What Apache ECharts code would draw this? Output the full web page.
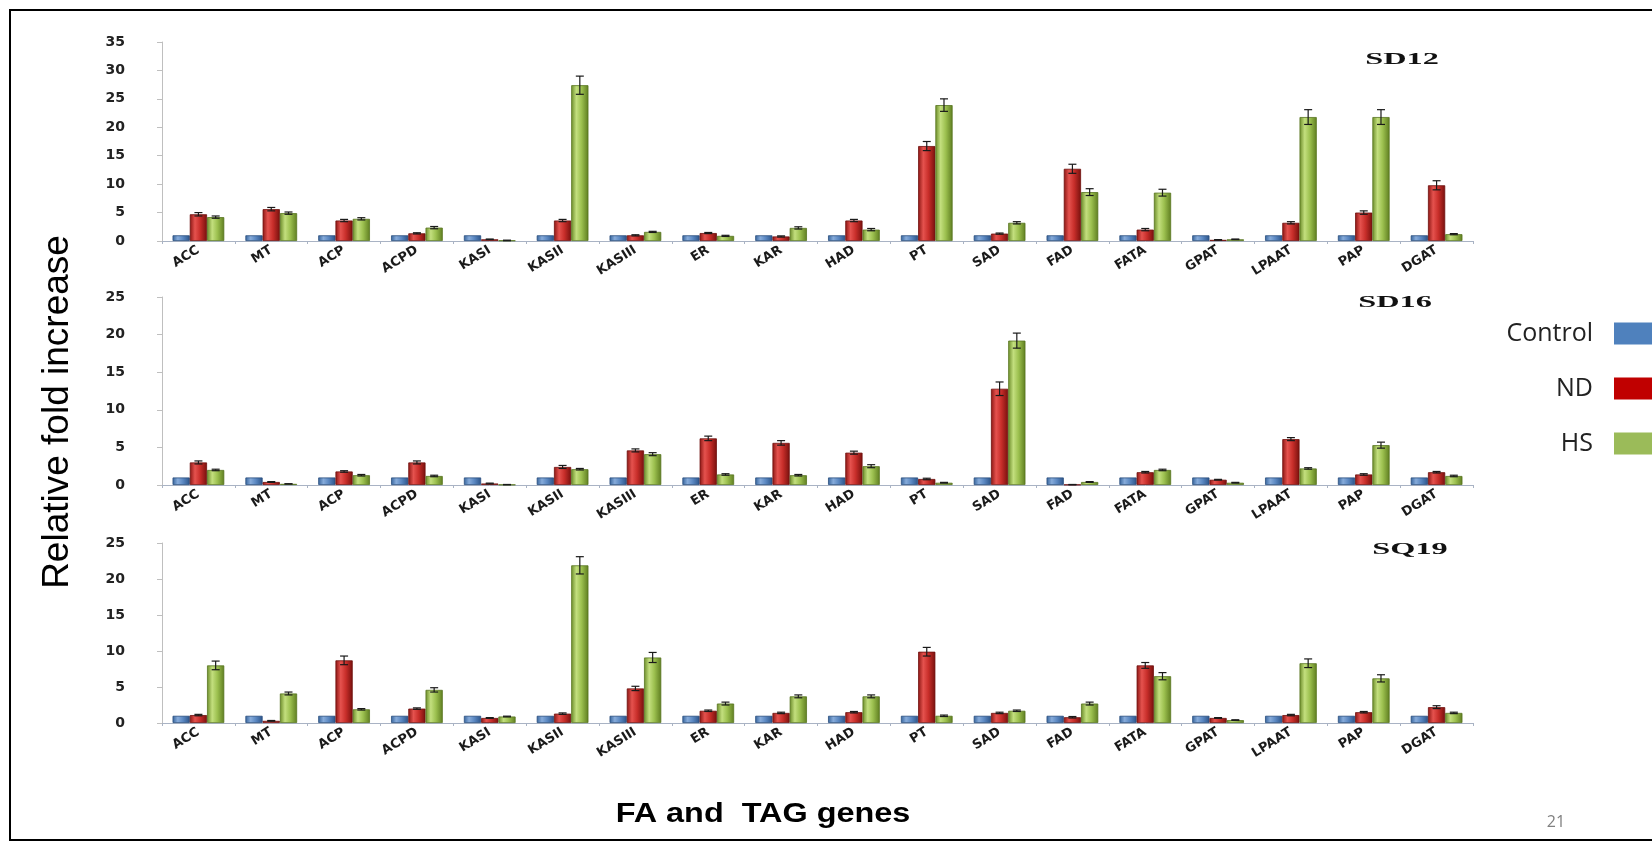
<!DOCTYPE html>
<html>
<head>
<meta charset="utf-8">
<script src="https://cdn.jsdelivr.net/npm/echarts@6/dist/echarts.min.js"></script>
<style>
html,body{margin:0;padding:0;background:#fff;}
#chart{width:1652px;height:843px;}
</style>
</head>
<body>
<div id="chart"></div>
<script>
// ---------------- data ----------------
const categories = ['ACC','MT','ACP','ACPD','KASI','KASII','KASIII','ER','KAR','HAD','PT','SAD','FAD','FATA','GPAT','LPAAT','PAP','DGAT'];
const seriesNames = ['Control','ND','HS'];
const panelNames = ['SD12','SD16','SQ19'];
const yMax = [35, 25, 25];
const yTickStep = 5;

const control12 = [1,1,1,1,1,1,1,1,1,1,1,1,1,1,1,1,1,1];
const nd12  = [4.7, 5.6, 3.6, 1.35, 0.3, 3.6, 1.0, 1.4, 0.8, 3.6, 16.7, 1.3, 12.7, 2.0, 0.2, 3.2, 5.0, 9.8];
const hs12  = [4.2, 4.9, 3.9, 2.35, 0.1, 27.4, 1.6, 0.9, 2.3, 2.0, 23.9, 3.2, 8.6, 8.5, 0.3, 21.8, 21.8, 1.2];
const errNd12 = [0.3, 0.3, 0.2, 0.1, 0.05, 0.2, 0.1, 0.1, 0.1, 0.2, 0.8, 0.1, 0.8, 0.2, 0.05, 0.2, 0.3, 0.8];
const errHs12 = [0.2, 0.2, 0.2, 0.2, 0.05, 1.6, 0.1, 0.1, 0.2, 0.2, 1.1, 0.2, 0.6, 0.6, 0.05, 1.3, 1.3, 0.1];

const control16 = [1,1,1,1,1,1,1,1,1,1,1,1,1,1,1,1,1,1];
const nd16  = [3.0, 0.4, 1.8, 3.0, 0.2, 2.4, 4.6, 6.2, 5.6, 4.3, 0.8, 12.8, 0.05, 1.7, 0.7, 6.1, 1.4, 1.7];
const hs16  = [2.0, 0.15, 1.3, 1.2, 0.05, 2.1, 4.1, 1.4, 1.3, 2.5, 0.3, 19.2, 0.4, 2.0, 0.3, 2.2, 5.3, 1.2];
const errNd16 = [0.2, 0.05, 0.1, 0.2, 0.05, 0.2, 0.2, 0.3, 0.3, 0.2, 0.1, 0.9, 0.02, 0.1, 0.05, 0.2, 0.1, 0.1];
const errHs16 = [0.1, 0.02, 0.1, 0.1, 0.02, 0.1, 0.2, 0.1, 0.1, 0.2, 0.05, 1.0, 0.05, 0.1, 0.05, 0.1, 0.4, 0.1];

const control19 = [1,1,1,1,1,1,1,1,1,1,1,1,1,1,1,1,1,1];
const nd19  = [1.1, 0.3, 8.7, 2.0, 0.7, 1.3, 4.8, 1.7, 1.4, 1.5, 9.9, 1.4, 0.8, 8.0, 0.7, 1.1, 1.5, 2.2];
const hs19  = [8.0, 4.1, 1.9, 4.6, 0.9, 21.9, 9.1, 2.7, 3.7, 3.7, 1.0, 1.7, 2.7, 6.5, 0.4, 8.3, 6.2, 1.4];
const errNd19 = [0.1, 0.05, 0.6, 0.1, 0.05, 0.1, 0.3, 0.1, 0.1, 0.1, 0.6, 0.1, 0.1, 0.4, 0.05, 0.1, 0.1, 0.2];
const errHs19 = [0.6, 0.2, 0.1, 0.3, 0.05, 1.2, 0.7, 0.2, 0.2, 0.2, 0.1, 0.1, 0.2, 0.5, 0.05, 0.6, 0.5, 0.1];

// ---------------- build ----------------
const panels = [
  {control: control12, nd: nd12, hs: hs12, errNd: errNd12, errHs: errHs12},
  {control: control16, nd: nd16, hs: hs16, errNd: errNd16, errHs: errHs16},
  {control: control19, nd: nd19, hs: hs19, errNd: errNd19, errHs: errHs19}
];

const G = echarts.graphic;
function grad(stops){ return new G.LinearGradient(0,0,1,0, stops.map((c)=>({offset:c[0], color:c[1]}))); }
const barStyles = [
  {color: grad([[0,'#34629A'],[0.3,'#86ABDA'],[0.6,'#5B88C2'],[1,'#2B5388']]), borderColor:'#2A4E7E', borderWidth:0.8},
  {color: grad([[0,'#8A1512'],[0.3,'#E5524E'],[0.6,'#C82E2A'],[1,'#77100D']]), borderColor:'#6E0F0C', borderWidth:0.8},
  {color: grad([[0,'#6A8A28'],[0.3,'#C3DF7E'],[0.6,'#9CC04F'],[1,'#5E7D20']]), borderColor:'#587520', borderWidth:0.8}
];
const legendColors = ['#4F81BD','#C00000','#9BBB59'];

const gridDefs = [
  {left:162, width:1311, top:42,  height:199},
  {left:162, width:1311, top:297, height:188},
  {left:162, width:1311, top:543, height:180}
];
const CAT_GAP = 0.29;

const xAxes = [], yAxes = [], series = [];
gridDefs.forEach((g, gi) => {
  xAxes.push({
    type:'category', gridIndex: gi, data: categories,
    axisLine:{show:true, lineStyle:{color:'#A9B3C4', width:1}},
    axisTick:{show:true, length:3, lineStyle:{color:'#A9B3C4'}},
    axisLabel:{interval:0, rotate:32, margin:8, fontFamily:'DejaVu Sans', fontWeight:'bold', fontSize:13, color:'#1a1a1a'},
    splitLine:{show:false}
  });
  yAxes.push({
    type:'value', gridIndex: gi, min:0, max:yMax[gi], interval:yTickStep,
    axisLine:{show:true, lineStyle:{color:'#BFBFBF', width:1}},
    axisTick:{show:true, length:5, lineStyle:{color:'#BFBFBF'}},
    axisLabel:{margin:37, fontFamily:'DejaVu Sans', fontWeight:'bold', fontSize:14, color:'#222'},
    splitLine:{show:false}
  });
  const p = panels[gi];
  [p.control, p.nd, p.hs].forEach((arr, si) => {
    series.push({
      type:'bar', name: seriesNames[si], xAxisIndex: gi, yAxisIndex: gi,
      data: arr, barGap:'0%', barCategoryGap: (CAT_GAP*100)+'%',
      itemStyle: barStyles[si], emphasis:{disabled:true}, animation:false
    });
  });
  [[p.nd, p.errNd, 0], [p.hs, p.errHs, 1]].forEach(([vals, errs, off]) => {
    series.push({
      type:'custom', name:'err', xAxisIndex: gi, yAxisIndex: gi, z: 10, animation:false,
      data: vals.map((v,i)=>[i, v, errs[i]]),
      renderItem: function(params, api){
        const i = api.value(0), v = api.value(1), e = api.value(2);
        const bw = api.size([1,0])[0] * (1-CAT_GAP) / 3;
        const top = api.coord([i, v + e]);
        const bot = api.coord([i, Math.max(0, v - e)]);
        const x = top[0] + off * bw;
        const cap = 4;
        const st = {stroke:'#1a1a1a', lineWidth:1.2};
        return {type:'group', children:[
          {type:'line', shape:{x1:x, y1:top[1], x2:x, y2:bot[1]}, style:st},
          {type:'line', shape:{x1:x-cap, y1:top[1], x2:x+cap, y2:top[1]}, style:st},
          {type:'line', shape:{x1:x-cap, y1:bot[1], x2:x+cap, y2:bot[1]}, style:st}
        ]};
      }
    });
  });
});

const titlePos = [[1402,60],[1395,303],[1410,550]];
const graphics = [
  {type:'rect', shape:{x:10, y:10, width:1700, height:830}, style:{fill:'none', stroke:'#000', lineWidth:2}, z:100},
  {type:'text', x:58, y:412, rotation:Math.PI/2, style:{text:'Relative fold increase', font:'37px "Liberation Sans", Arial, sans-serif', fill:'#000', align:'center', verticalAlign:'middle'}},
  {type:'text', x:763, y:815, scaleX:1.2, style:{text:'FA and  TAG genes', font:'bold 27px "Liberation Sans", Arial, sans-serif', fill:'#000', align:'center', verticalAlign:'middle'}},
  {type:'text', x:1556, y:822, style:{text:'21', font:'16px "Open Sans", sans-serif', fill:'#808080', align:'center', verticalAlign:'middle'}}
];
panelNames.forEach((n, i) => {
  graphics.push({type:'text', x:titlePos[i][0], y:titlePos[i][1], scaleX:1.9, style:{text:n, font:'bold 17px "Liberation Serif", "Times New Roman", serif', fill:'#111', align:'center', verticalAlign:'middle'}});
});

const option = {
  backgroundColor:'#fff',
  animation:false,
  grid: gridDefs,
  xAxis: xAxes,
  yAxis: yAxes,
  legend: {
    data: seriesNames.map((n,i)=>({name:n, itemStyle:{color:legendColors[i], borderWidth:0}})),
    orient:'vertical', align:'right', right:-7, top:316,
    itemWidth:40, itemHeight:22, itemGap:30, selectedMode:false, icon:'rect',
    textStyle:{fontFamily:'"Open Sans", sans-serif', fontSize:25, color:'#222', padding:[0,16,0,0]}
  },
  graphic: graphics,
  series: series
};

const chart = echarts.init(document.getElementById('chart'), null, {renderer:'canvas'});
chart.setOption(option);
</script>
</body>
</html>
